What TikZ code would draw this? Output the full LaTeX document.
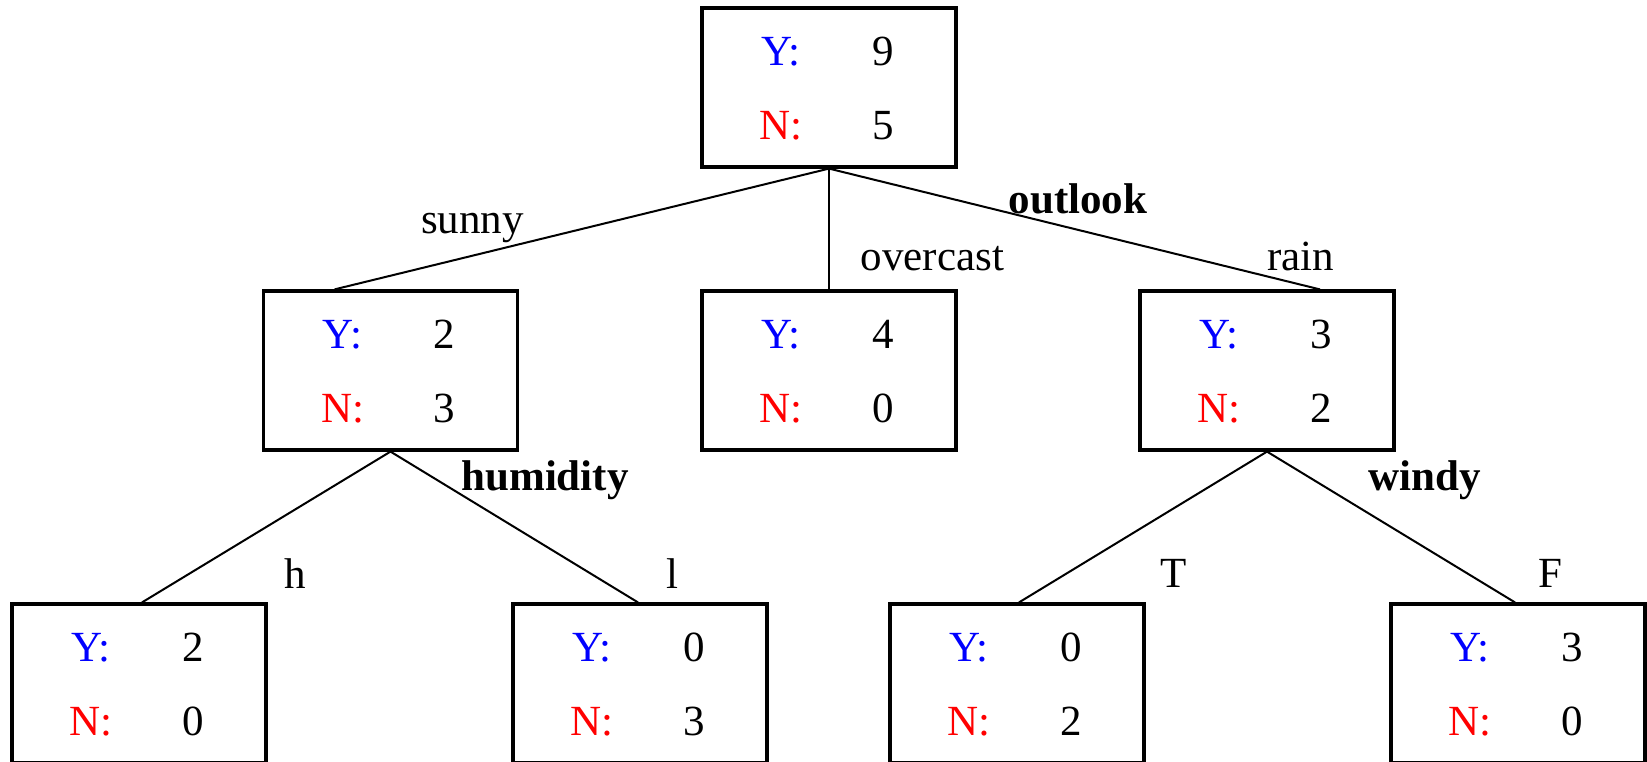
\documentclass[tikz,border=0pt]{standalone}
\usepackage{fontspec}
\setmainfont{Liberation Serif}
\definecolor{yblue}{RGB}{0,0,255}
\definecolor{nred}{RGB}{255,0,0}
\newcommand\countbox[5]{%
  \node[box] (#1) at (#2,#3+79.5) {};
  \node[lbl,text=yblue] (#1yl) at (#2-48,#3+57) {Y:};
  \node[lbl] (#1yv) at (#2+54,#3+57) {#4};
  \node[lbl,text=nred] (#1nl) at (#2-48,#3+131) {N:};
  \node[lbl] (#1nv) at (#2+54,#3+131) {#5};
}
\begin{document}
\begin{tikzpicture}[x=1pt,y=-1pt,
  box/.style={draw, line width=3.2pt, minimum width=254pt, minimum height=159pt, inner sep=0pt},
  lbl/.style={anchor=base, inner sep=0pt, font=\fontsize{43}{50}\selectfont},
  blbl/.style={lbl, font=\fontsize{43}{50}\selectfont\bfseries},
  edge/.style={line width=2pt}]
\useasboundingbox (0,0) rectangle (1647,761);
\clip (0,0) rectangle (1647,761);
\fill[white] (0,0) rectangle (1647,761);
\countbox{root}{829}{8}{9}{5}
\countbox{sunnyb}{390.5}{291}{2}{3}
\countbox{overb}{829}{291}{4}{0}
\countbox{rainb}{1267}{291}{3}{2}
\countbox{hb}{139}{604}{2}{0}
\countbox{lb}{640}{604}{0}{3}
\countbox{tb}{1017}{604}{0}{2}
\countbox{fb}{1518}{604}{3}{0}
\draw[edge] (root.south) -- ([xshift=-56pt]sunnyb.north);
\draw[edge] (root.south) -- (overb.north);
\draw[edge] (root.south) -- ([xshift=53pt]rainb.north);
\draw[edge] (sunnyb.south) -- ([xshift=3pt]hb.north);
\draw[edge] (sunnyb.south) -- ([xshift=-2pt]lb.north);
\draw[edge] (rainb.south) -- ([xshift=2pt]tb.north);
\draw[edge] (rainb.south) -- ([xshift=-3pt]fb.north);
\node[lbl] (sunnyt) at (472.5,233) {sunny};
\node[lbl] (overt) at (932.5,270) {overcast};
\node[blbl] (outlookt) at (1078,213) {outlook};
\node[lbl] (raint) at (1300.5,270) {rain};
\node[blbl] (humt) at (545,490) {humidity};
\node[lbl] (ht) at (295,588) {h};
\node[lbl] (lt) at (672,588) {l};
\node[blbl] (windyt) at (1425,490) {windy};
\node[lbl] (tt) at (1173.5,587) {T};
\node[lbl] (ft) at (1550,587) {F};
\end{tikzpicture}
\end{document}
